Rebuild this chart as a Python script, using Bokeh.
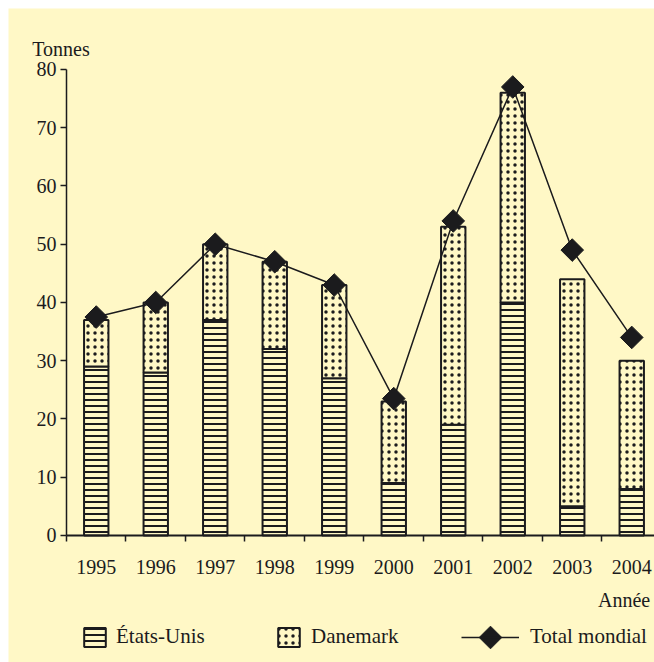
import numpy as np
from bokeh.plotting import figure
from bokeh.models import (Range1d, FixedTicker, Label, Legend, LegendItem,
                          ColumnDataSource, LinearAxis)
from bokeh.embed import file_html
from bokeh.resources import INLINE

# ---- data ----
years = ["1995", "1996", "1997", "1998", "1999", "2000", "2001", "2002", "2003", "2004"]
etats_unis = [29, 28, 37, 32, 27, 9, 19, 40, 5, 8]
danemark = [8, 12, 13, 15, 16, 14, 34, 36, 39, 22]
total_mondial = [37.5, 40, 50, 47, 43, 23.5, 54, 77, 49, 34]
y_ticks = [0, 10, 20, 30, 40, 50, 60, 70, 80]

BG = "#FFF8C6"
INK = "#1b1b1d"
FONT = "Liberation Serif"

xs = list(range(len(years)))
dk_top = [u + d for u, d in zip(etats_unis, danemark)]
src = ColumnDataSource(dict(x=xs, us=etats_unis, dk_top=dk_top, total=total_mondial))

p = figure(width=654, height=662, output_backend="svg", toolbar_location=None,
           x_range=Range1d(-1.4748, 9.3824), y_range=Range1d(-21.803, 90.472),
           x_axis_type=None, y_axis_type=None,
           min_border_left=8, min_border_right=0, min_border_top=8,
           min_border_bottom=0,
           background_fill_color=BG, border_fill_color="white",
           outline_line_color=None)
p.grid.visible = False

us_r = p.vbar(x="x", width=0.41, bottom=0, top="us", source=src,
              fill_color=BG, line_color=INK, line_width=2,
              hatch_pattern="horizontal_line", hatch_scale=6, hatch_weight=2,
              hatch_color=INK)
dk_r = p.vbar(x="x", width=0.41, bottom="us", top="dk_top", source=src,
              fill_color=BG, line_color=INK, line_width=2,
              hatch_pattern="dot", hatch_scale=7, hatch_weight=2.6,
              hatch_color=INK)
line_r = p.line(x="x", y="total", source=src, line_color=INK, line_width=1.5)
mark_style = dict(marker="square", size=16, angle=np.pi / 4,
                  fill_color=INK, line_color=INK)
mark_r = p.scatter(x="x", y="total", source=src, **mark_style)

# axes placed at fixed data locations inside the frame
xa = LinearAxis(fixed_location=0, bounds=(-0.5, 9.3824))
xa.ticker = FixedTicker(ticks=xs, minor_ticks=[i - 0.5 for i in range(len(years) + 1)])
xa.major_label_overrides = {i: y for i, y in enumerate(years)}
xa.major_tick_out = 0
xa.major_tick_in = 0
xa.minor_tick_out = 6
xa.minor_tick_in = 0
xa.minor_tick_line_color = INK
xa.minor_tick_line_width = 1.5
xa.axis_line_color = INK
xa.axis_line_width = 2
xa.major_label_standoff = 19
xa.major_label_text_font = FONT
xa.major_label_text_font_size = "20px"
xa.major_label_text_color = INK
p.add_layout(xa, "below")

ya = LinearAxis(fixed_location=-0.5, bounds=(0, 80))
ya.ticker = FixedTicker(ticks=y_ticks)
ya.major_tick_out = 6
ya.major_tick_in = 0
ya.minor_tick_out = 0
ya.minor_tick_in = 0
ya.major_tick_line_color = INK
ya.major_tick_line_width = 1.5
ya.axis_line_color = INK
ya.axis_line_width = 1.5
ya.major_label_standoff = 4
ya.major_label_text_font = FONT
ya.major_label_text_font_size = "20px"
ya.major_label_text_color = INK
p.add_layout(ya, "left")

p.add_layout(Label(x=-1.0765, y=83.55, text="Tonnes", text_font=FONT,
                   text_font_size="20px", text_color=INK,
                   text_align="left", text_baseline="alphabetic"))
p.add_layout(Label(x=9.31, y=-11.0, text="Année", text_font=FONT,
                   text_font_size="20px", text_color=INK,
                   text_align="right", text_baseline="alphabetic"))

common = dict(orientation="horizontal", label_text_font=FONT,
              label_text_font_size="21px", label_text_color=INK,
              padding=0, margin=0, background_fill_alpha=0,
              border_line_color=None, spacing=0, glyph_height=24,
              label_height=24)
leg1 = Legend(items=[LegendItem(label="États-Unis", renderers=[us_r])],
              location=(73, 13), glyph_width=27, label_standoff=8, **common)
leg2 = Legend(items=[LegendItem(label="Danemark", renderers=[dk_r])],
              location=(267, 13), glyph_width=27, label_standoff=9, **common)
leg3 = Legend(items=[LegendItem(label="Total mondial", renderers=[line_r])],
              location=(453, 13), glyph_width=58, label_standoff=11, **common)
for lg in (leg1, leg2, leg3):
    p.add_layout(lg)

# legend key diamond for "Total mondial" (centre of leg3's key, in data units)
key_x = [6.626]
key_y = [-17.51]
p.scatter(x=key_x, y=key_y, **mark_style)

open("out.html", "w").write(file_html(p, INLINE))
